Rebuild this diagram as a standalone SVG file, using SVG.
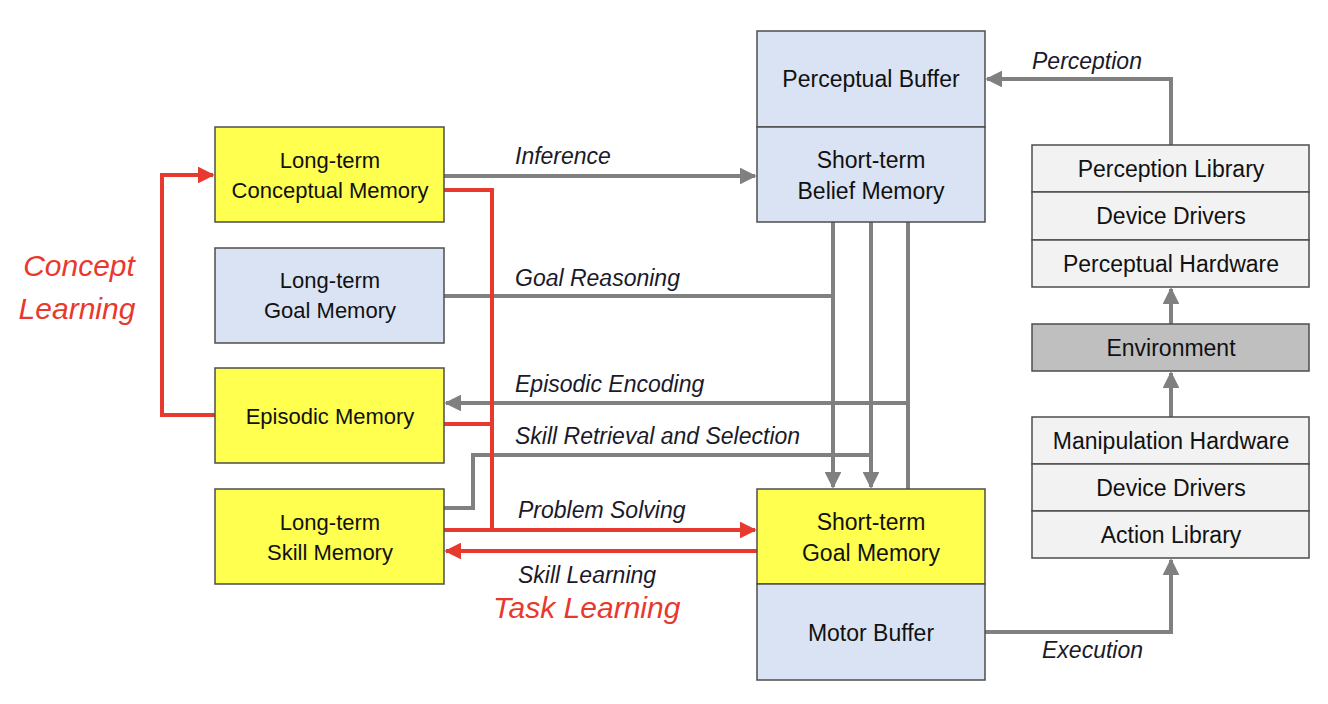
<svg xmlns="http://www.w3.org/2000/svg" width="1328" height="704" viewBox="0 0 1328 704">
<style>
.box{stroke:#4d4d4d;stroke-width:1.5}
.y{fill:#ffff4f}
.b{fill:#dae3f3}
.g{fill:#f2f2f2}
.e{fill:#bfbfbf}
.t{font-family:"Liberation Sans",Arial,sans-serif;font-size:22px;fill:#111;text-anchor:middle}
.t2{font-family:"Liberation Sans",Arial,sans-serif;font-size:23px;fill:#111;text-anchor:middle}
.l{font-family:"Liberation Sans",Arial,sans-serif;font-size:23px;font-style:italic;fill:#1a1a2a}
.r{font-family:"Liberation Sans",Arial,sans-serif;font-style:italic;fill:#e8392e}
.gl{fill:none;stroke:#808080;stroke-width:4}
.rl{fill:none;stroke:#e8392e;stroke-width:4}
</style>
<defs>
<marker id="ag" viewBox="0 0 10 10" refX="9" refY="5" markerWidth="4.2" markerHeight="4.2" orient="auto" markerUnits="strokeWidth"><path d="M0,0 L10,5 L0,10 z" fill="#808080"/></marker>
<marker id="ar" viewBox="0 0 10 10" refX="9" refY="5" markerWidth="4.2" markerHeight="4.2" orient="auto" markerUnits="strokeWidth"><path d="M0,0 L10,5 L0,10 z" fill="#e8392e"/></marker>
</defs>
<rect width="1328" height="704" fill="#fff"/>
<g id="connectors">
<path class="gl" d="M444,176 H755" marker-end="url(#ag)"/>
<path class="gl" d="M444,296 H833"/>
<path class="gl" d="M833,222 V487" marker-end="url(#ag)"/>
<path class="gl" d="M871,222 V487" marker-end="url(#ag)"/>
<path class="gl" d="M908,489 V222"/>
<path class="gl" d="M908,403 H446" marker-end="url(#ag)"/>
<path class="gl" d="M444,508 H473 V455 H871"/>
<path class="gl" d="M1171,145 V79 H987" marker-end="url(#ag)"/>
<path class="gl" d="M1171,324 V289" marker-end="url(#ag)"/>
<path class="gl" d="M1171,417 V373" marker-end="url(#ag)"/>
<path class="gl" d="M985,632 H1171 V560" marker-end="url(#ag)"/>
<path class="rl" d="M444,190 H492 V530"/>
<path class="rl" d="M444,424 H492"/>
<path class="rl" d="M444,530 H755" marker-end="url(#ar)"/>
<path class="rl" d="M757,551 H446" marker-end="url(#ar)"/>
<path class="rl" d="M215,415 H162 V175 H213" marker-end="url(#ar)"/>
</g>
<g id="ltcm"><rect class="box y" x="215" y="127" width="229" height="95"/><text class="t" x="330" y="168">Long-term</text><text class="t" x="330" y="198">Conceptual Memory</text></g>
<g id="ltgm"><rect class="box b" x="215" y="248" width="229" height="95"/><text class="t" x="330" y="288">Long-term</text><text class="t" x="330" y="318">Goal Memory</text></g>
<g id="episodic"><rect class="box y" x="215" y="368" width="229" height="95"/><text class="t" x="330" y="424">Episodic Memory</text></g>
<g id="ltsm"><rect class="box y" x="215" y="489" width="229" height="95"/><text class="t" x="330" y="530">Long-term</text><text class="t" x="330" y="560">Skill Memory</text></g>
<g id="perceptual-buffer"><rect class="box b" x="757" y="31" width="228" height="96"/><text class="t2" x="871" y="87">Perceptual Buffer</text></g>
<g id="stbm"><rect class="box b" x="757" y="127" width="228" height="95"/><text class="t2" x="871" y="168">Short-term</text><text class="t2" x="871" y="199">Belief Memory</text></g>
<g id="stgm"><rect class="box y" x="757" y="489" width="228" height="95"/><text class="t2" x="871" y="530">Short-term</text><text class="t2" x="871" y="561">Goal Memory</text></g>
<g id="motor-buffer"><rect class="box b" x="757" y="584" width="228" height="96"/><text class="t2" x="871" y="641">Motor Buffer</text></g>
<g id="perception-library"><rect class="box g" x="1032" y="145" width="277" height="47"/><text class="t2" x="1171" y="177">Perception Library</text></g>
<g id="device-drivers-1"><rect class="box g" x="1032" y="192" width="277" height="48"/><text class="t2" x="1171" y="224">Device Drivers</text></g>
<g id="perceptual-hardware"><rect class="box g" x="1032" y="240" width="277" height="47"/><text class="t2" x="1171" y="272">Perceptual Hardware</text></g>
<g id="environment"><rect class="box e" x="1032" y="324" width="277" height="47"/><text class="t2" x="1171" y="356">Environment</text></g>
<g id="manipulation-hardware"><rect class="box g" x="1032" y="417" width="277" height="47"/><text class="t2" x="1171" y="449">Manipulation Hardware</text></g>
<g id="device-drivers-2"><rect class="box g" x="1032" y="464" width="277" height="47"/><text class="t2" x="1171" y="496">Device Drivers</text></g>
<g id="action-library"><rect class="box g" x="1032" y="511" width="277" height="47"/><text class="t2" x="1171" y="543">Action Library</text></g>
<g id="labels">
<text class="l" x="515" y="164">Inference</text>
<text class="l" x="515" y="286">Goal Reasoning</text>
<text class="l" x="515" y="392">Episodic Encoding</text>
<text class="l" x="515" y="444">Skill Retrieval and Selection</text>
<text class="l" x="518" y="518">Problem Solving</text>
<text class="l" x="518" y="583">Skill Learning</text>
<text class="r" x="493" y="618" font-size="30">Task Learning</text>
<text class="r" x="79" y="276" font-size="30" text-anchor="middle">Concept</text>
<text class="r" x="77" y="319" font-size="30" text-anchor="middle">Learning</text>
<text class="l" x="1032" y="69">Perception</text>
<text class="l" x="1042" y="658">Execution</text>
</g>
</svg>
